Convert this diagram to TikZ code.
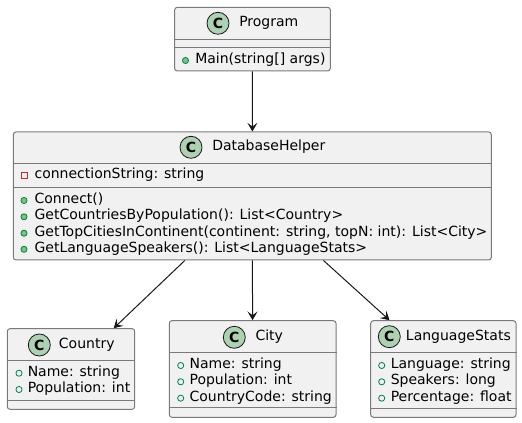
\documentclass[tikz,border=0pt]{standalone}
\usepackage{fontspec}
\setmainfont{DejaVu Sans}
\usetikzlibrary{arrows.meta}
\definecolor{boxfill}{HTML}{F1F1F1}
\definecolor{boxline}{HTML}{7A7A7A}
\definecolor{arrowc}{HTML}{181818}
\definecolor{badge}{HTML}{ADD1B2}
\definecolor{pubg}{HTML}{038048}
\definecolor{pubfill}{HTML}{84BE84}
\definecolor{privr}{HTML}{C82930}
\tikzset{
  classbox/.style={draw=boxline, fill=boxfill, line width=0.75pt, rounded corners=2pt, inner sep=0pt},
  sepline/.style={draw=boxline, line width=0.75pt},
  badgec/.style={circle, draw=arrowc, fill=badge, line width=0.6pt, minimum size=16.5pt, inner sep=0pt, font=\bfseries\fontsize{10.5}{12}\selectfont},
  txt/.style={anchor=west, inner sep=0pt, text height=7.6pt, text depth=2.5pt, font=\fontsize{10.5}{12}\selectfont},
  fieldicon/.style={circle, draw=pubg, line width=0.6pt, minimum size=4.6pt, inner sep=0pt},
  methodicon/.style={circle, draw=pubg, fill=pubfill, line width=0.6pt, minimum size=4.6pt, inner sep=0pt},
  privicon/.style={rectangle, draw=privr, line width=0.6pt, minimum size=4.4pt, inner sep=0pt},
  dep/.style={draw=arrowc, line width=0.75pt, -{Stealth[length=6.5pt,width=7.5pt,inset=2.8pt]}}
}
\begin{document}
\begin{tikzpicture}[x=0.75pt,y=-0.75pt]
\useasboundingbox (0,0) rectangle (522,423);
% ---------- Program
\node[classbox, minimum width={155.6*0.75pt}, minimum height={63.7*0.75pt}] (prog) at (252.5,39.15) {};
\draw[sepline] (prog.west |- 0,39.3) -- (prog.east |- 0,39.3);
\draw[sepline] (prog.west |- 0,47.3) -- (prog.east |- 0,47.3);
\node[badgec] (progC) at (218,23.3) {C};
\node[txt] (progN) at (239,23.3) {Program};
\node[methodicon] (progM1i) at (185.5,60.5) {};
\node[txt] (progM1) at (195,60) {Main(string[] args)};
% ---------- DatabaseHelper
\node[classbox, minimum width={478*0.75pt}, minimum height={128*0.75pt}] (db) at (252.3,196) {};
\draw[sepline] (db.west |- 0,163.3) -- (db.east |- 0,163.3);
\draw[sepline] (db.west |- 0,187.3) -- (db.east |- 0,187.3);
\node[badgec] (dbC) at (191,147.3) {C};
\node[txt] (dbN) at (212,147.3) {DatabaseHelper};
\node[privicon] (dbF1i) at (24,175.5) {};
\node[txt] (dbF1) at (34.3,175) {connectionString: string};
\node[methodicon] (dbM1i) at (24,200.5) {};
\node[txt] (dbM1) at (34.3,200) {Connect()};
\node[methodicon] (dbM2i) at (24,216.8) {};
\node[txt] (dbM2) at (34.3,216.3) {GetCountriesByPopulation(): List<Country>};
\node[methodicon] (dbM3i) at (24,233.2) {};
\node[txt] (dbM3) at (34.3,232.7) {GetTopCitiesInContinent(continent: string, topN: int): List<City>};
\node[methodicon] (dbM4i) at (24,249.3) {};
\node[txt] (dbM4) at (34.3,248.8) {GetLanguageSpeakers(): List<LanguageStats>};
% ---------- Country
\node[classbox, minimum width={127.4*0.75pt}, minimum height={80.6*0.75pt}] (country) at (71,369) {};
\draw[sepline] (country.west |- 0,360.7) -- (country.east |- 0,360.7);
\draw[sepline] (country.west |- 0,400.7) -- (country.east |- 0,400.7);
\node[badgec] (countryC) at (39.3,345) {C};
\node[txt] (countryN) at (58.7,345) {Country};
\node[fieldicon] (countryF1i) at (19,373.2) {};
\node[txt] (countryF1) at (27.5,372.7) {Name: string};
\node[fieldicon] (countryF2i) at (19,389.5) {};
\node[txt] (countryF2) at (27.5,389) {Population: int};
% ---------- City
\node[classbox, minimum width={166.7*0.75pt}, minimum height={96.6*0.75pt}] (city) at (252.65,369) {};
\draw[sepline] (city.west |- 0,352.3) -- (city.east |- 0,352.3);
\draw[sepline] (city.west |- 0,407.7) -- (city.east |- 0,407.7);
\node[badgec] (cityC) at (234.3,337.3) {C};
\node[txt] (cityN) at (255.3,337.3) {City};
\node[fieldicon] (cityF1i) at (180.7,365.5) {};
\node[txt] (cityF1) at (189.3,365) {Name: string};
\node[fieldicon] (cityF2i) at (180.7,381.8) {};
\node[txt] (cityF2) at (189.3,381.3) {Population: int};
\node[fieldicon] (cityF3i) at (180.7,398.2) {};
\node[txt] (cityF3) at (189.3,397.7) {CountryCode: string};
% ---------- LanguageStats
\node[classbox, minimum width={145.3*0.75pt}, minimum height={96.6*0.75pt}] (lang) at (443.35,369) {};
\draw[sepline] (lang.west |- 0,352.3) -- (lang.east |- 0,352.3);
\draw[sepline] (lang.west |- 0,408.3) -- (lang.east |- 0,408.3);
\node[badgec] (langC) at (389.3,336.7) {C};
\node[txt] (langN) at (405.7,336.7) {LanguageStats};
\node[fieldicon] (langF1i) at (381.7,365.5) {};
\node[txt] (langF1) at (390.5,365) {Language: string};
\node[fieldicon] (langF2i) at (381.7,381.8) {};
\node[txt] (langF2) at (390.5,381.3) {Speakers: long};
\node[fieldicon] (langF3i) at (381.7,398.2) {};
\node[txt] (langF3) at (390.5,397.7) {Percentage: float};
% ---------- connectors
\draw[dep] (prog) -- (db);
\draw[dep] (db) -- (country);
\draw[dep] (db) -- (city);
\draw[dep] (db) -- (lang);
\end{tikzpicture}
\end{document}
